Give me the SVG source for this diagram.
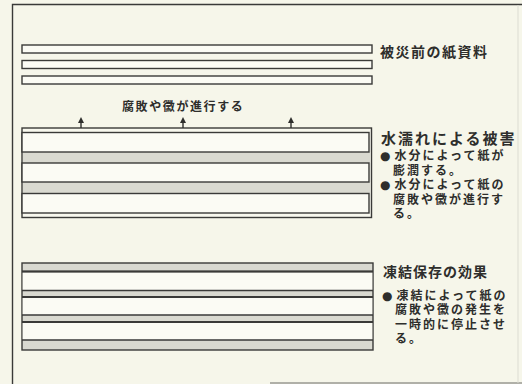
<svg xmlns="http://www.w3.org/2000/svg" width="522" height="384" viewBox="0 0 522 384">
<defs>
<style>
.bg{fill:#f6f6ea}
.frame{fill:none;stroke:#3a3a38;stroke-width:1.4}
.bar{fill:#fbfbf4;stroke:#3a3a38;stroke-width:1.4}
.band{fill:#d9d9d0;stroke:none}
.ln{stroke:#3a3a38;stroke-width:1.4;fill:none}
.t{font-family:"Liberation Sans","Noto Sans CJK JP",sans-serif;fill:#2e2e2c}
.title{font-size:14px;letter-spacing:1.5px;font-weight:bold}
.body{font-size:12px;letter-spacing:2px;font-weight:bold}
.dot{font-family:"DejaVu Sans",sans-serif;font-weight:normal;letter-spacing:4px}
.arr{stroke:#2e2e2c;stroke-width:1.4;fill:none;marker-end:url(#ah)}
</style>
<marker id="ah" viewBox="0 0 6 6" refX="3" refY="3" markerWidth="6" markerHeight="6" orient="auto" markerUnits="userSpaceOnUse">
<path d="M0,6 L3,0 L6,6 Z" fill="#2e2e2c" transform="rotate(90 3 3)"/>
</marker>
</defs>
<rect class="bg" x="0" y="0" width="522" height="384"/>
<g id="frame">
<path class="frame" d="M12.5,384 V4.5 H522"/>
<path d="M270,383 H522" stroke="#6a6a66" stroke-width="1.2"/>
<path d="M518,5 V383" stroke="#dcdcd2" stroke-width="1"/>
</g>
<g id="before">
<rect class="bar" x="22" y="45" width="350" height="8"/>
<rect class="bar" x="22" y="60.5" width="350" height="8"/>
<rect class="bar" x="22" y="76" width="350" height="8"/>
<text class="t title" x="380" y="57">被災前の紙資料</text>
</g>
<g id="water">
<rect x="22" y="128" width="349.5" height="89.5" fill="#f8f8ee" stroke="#3a3a38" stroke-width="1.4"/>
<rect class="band" x="23" y="152" width="348" height="11"/>
<rect class="band" x="23" y="182" width="348" height="11.5"/>
<rect class="bar" x="22" y="132.5" width="347" height="19.5"/>
<rect class="bar" x="22" y="163" width="347" height="19"/>
<rect class="bar" x="22" y="193.5" width="347" height="19.5"/>
<text class="t" x="381" y="143.5" style="font-size:15px;letter-spacing:2px;font-weight:bold">水濡れによる被害</text>
<text class="t body" x="380" y="160"><tspan class="dot">●</tspan>水分によって紙が</text>
<text class="t body" x="393" y="174.5">膨潤する。</text>
<text class="t body" x="380" y="189"><tspan class="dot">●</tspan>水分によって紙の</text>
<text class="t body" x="393" y="203.5">腐敗や黴が進行す</text>
<text class="t body" x="393" y="218">る。</text>
</g>
<g id="freeze">
<rect x="22" y="263" width="351" height="87" fill="#d9d9d0" stroke="#3a3a38" stroke-width="1.4"/>
<rect x="22.7" y="271.5" width="349.6" height="19" fill="#fbfbf4"/>
<rect x="22.7" y="297" width="349.6" height="18" fill="#fbfbf4"/>
<rect x="22.7" y="322" width="349.6" height="18" fill="#fbfbf4"/>
<path class="ln" d="M22,271.5 H373 M22,290.5 H373 M22,297 H373 M22,315 H373 M22,322 H373 M22,340 H373"/>
<path d="M22,271.5 H373 M22,297 H373 M22,322 H373" stroke="#3a3a38" stroke-width="2" fill="none"/>
<text class="t title" x="383" y="277" style="letter-spacing:1px">凍結保存の効果</text>
<text class="t body" x="382" y="299.5"><tspan class="dot">●</tspan>凍結によって紙の</text>
<text class="t body" x="395" y="314">腐敗や黴の発生を</text>
<text class="t body" x="395" y="328.5">一時的に停止させ</text>
<text class="t body" x="395" y="343">る。</text>
</g>
<g id="connectors">
<text class="t body" x="122" y="111" style="letter-spacing:1.6px">腐敗や黴が進行する</text>
<path class="arr" d="M81,128 V120"/>
<path class="arr" d="M183,128 V120"/>
<path class="arr" d="M291,128 V120"/>
</g>
</svg>
